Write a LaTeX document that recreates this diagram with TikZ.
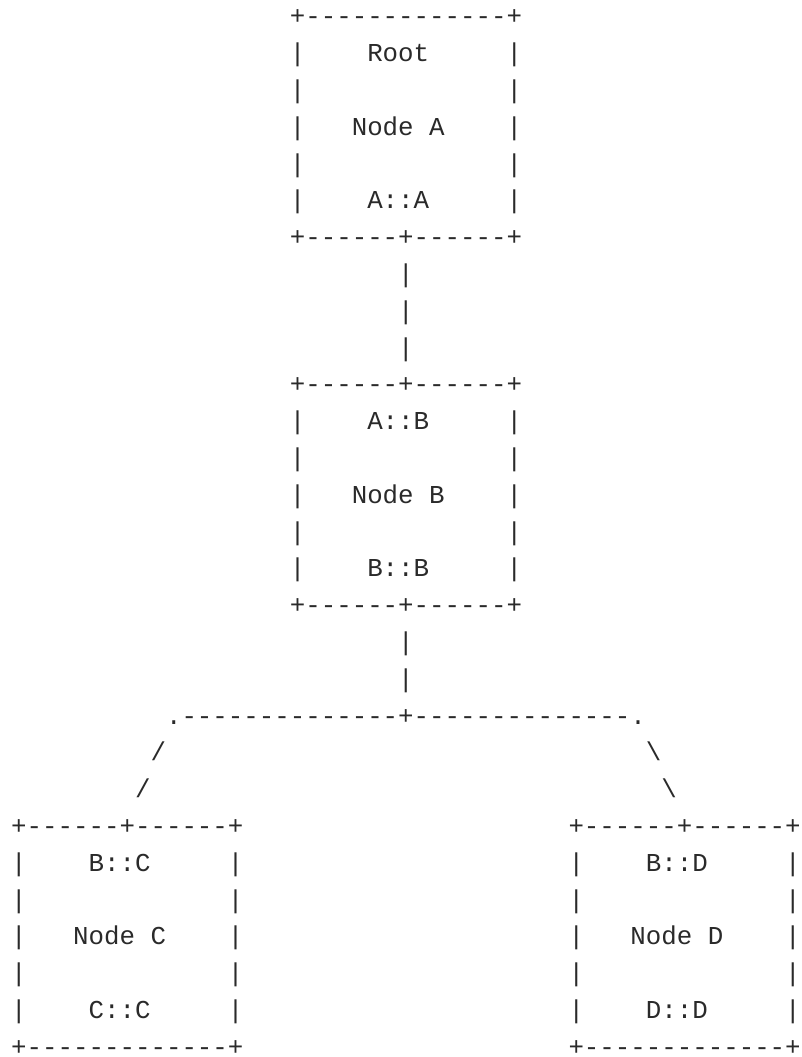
\documentclass[tikz,border=0pt]{standalone}
\usepackage{fontspec}
\setmonofont{Liberation Mono}
\definecolor{ink}{HTML}{2A2A2A}
\tikzset{
  txt/.style={anchor=base west, inner sep=0pt, outer sep=0pt, text=ink,
    font=\ttfamily\fontsize{19.35pt}{23pt}\selectfont}
}
% #1 name, #2 row, #3 column, #4 text
\newcommand\asciinode[4]{\node[txt] (#1) at ({11.22+#3*15.48},{24.8+(#2-1)*36.8}) {#4};}
\begin{document}
\begin{tikzpicture}[x=0.75pt,y=-0.75pt]
\fill[white] (0,0) rectangle (801,1057);
\useasboundingbox (0,0) rectangle (801,1057);
% ---- Node A
\asciinode{aTop}{1}{18}{+-------------+}
\asciinode{aL2}{2}{18}{|}\asciinode{aRoot}{2}{23}{Root}\asciinode{aR2}{2}{32}{|}
\asciinode{aL3}{3}{18}{|}\asciinode{aR3}{3}{32}{|}
\asciinode{aL4}{4}{18}{|}\asciinode{aName}{4}{22}{Node A}\asciinode{aR4}{4}{32}{|}
\asciinode{aL5}{5}{18}{|}\asciinode{aR5}{5}{32}{|}
\asciinode{aL6}{6}{18}{|}\asciinode{aAA}{6}{23}{A::A}\asciinode{aR6}{6}{32}{|}
\asciinode{aBot}{7}{18}{+------+------+}
% ---- link A-B
\asciinode{ab1}{8}{25}{|}
\asciinode{ab2}{9}{25}{|}
\asciinode{ab3}{10}{25}{|}
% ---- Node B
\asciinode{bTop}{11}{18}{+------+------+}
\asciinode{bL12}{12}{18}{|}\asciinode{bAB}{12}{23}{A::B}\asciinode{bR12}{12}{32}{|}
\asciinode{bL13}{13}{18}{|}\asciinode{bR13}{13}{32}{|}
\asciinode{bL14}{14}{18}{|}\asciinode{bName}{14}{22}{Node B}\asciinode{bR14}{14}{32}{|}
\asciinode{bL15}{15}{18}{|}\asciinode{bR15}{15}{32}{|}
\asciinode{bL16}{16}{18}{|}\asciinode{bBB}{16}{23}{B::B}\asciinode{bR16}{16}{32}{|}
\asciinode{bBot}{17}{18}{+------+------+}
% ---- fork
\asciinode{bf1}{18}{25}{|}
\asciinode{bf2}{19}{25}{|}
\asciinode{fork}{20}{10}{.--------------+--------------.}
\asciinode{sl1}{21}{9}{/}\asciinode{bs1}{21}{41}{\textbackslash}
\asciinode{sl2}{22}{8}{/}\asciinode{bs2}{22}{42}{\textbackslash}
% ---- Node C and Node D
\asciinode{cTop}{23}{0}{+------+------+}\asciinode{dTop}{23}{36}{+------+------+}
\asciinode{cL24}{24}{0}{|}\asciinode{cBC}{24}{5}{B::C}\asciinode{cR24}{24}{14}{|}
\asciinode{dL24}{24}{36}{|}\asciinode{dBD}{24}{41}{B::D}\asciinode{dR24}{24}{50}{|}
\asciinode{cL25}{25}{0}{|}\asciinode{cR25}{25}{14}{|}
\asciinode{dL25}{25}{36}{|}\asciinode{dR25}{25}{50}{|}
\asciinode{cL26}{26}{0}{|}\asciinode{cName}{26}{4}{Node C}\asciinode{cR26}{26}{14}{|}
\asciinode{dL26}{26}{36}{|}\asciinode{dName}{26}{40}{Node D}\asciinode{dR26}{26}{50}{|}
\asciinode{cL27}{27}{0}{|}\asciinode{cR27}{27}{14}{|}
\asciinode{dL27}{27}{36}{|}\asciinode{dR27}{27}{50}{|}
\asciinode{cL28}{28}{0}{|}\asciinode{cCC}{28}{5}{C::C}\asciinode{cR28}{28}{14}{|}
\asciinode{dL28}{28}{36}{|}\asciinode{dDD}{28}{41}{D::D}\asciinode{dR28}{28}{50}{|}
\asciinode{cBot}{29}{0}{+-------------+}\asciinode{dBot}{29}{36}{+-------------+}
\end{tikzpicture}
\end{document}
